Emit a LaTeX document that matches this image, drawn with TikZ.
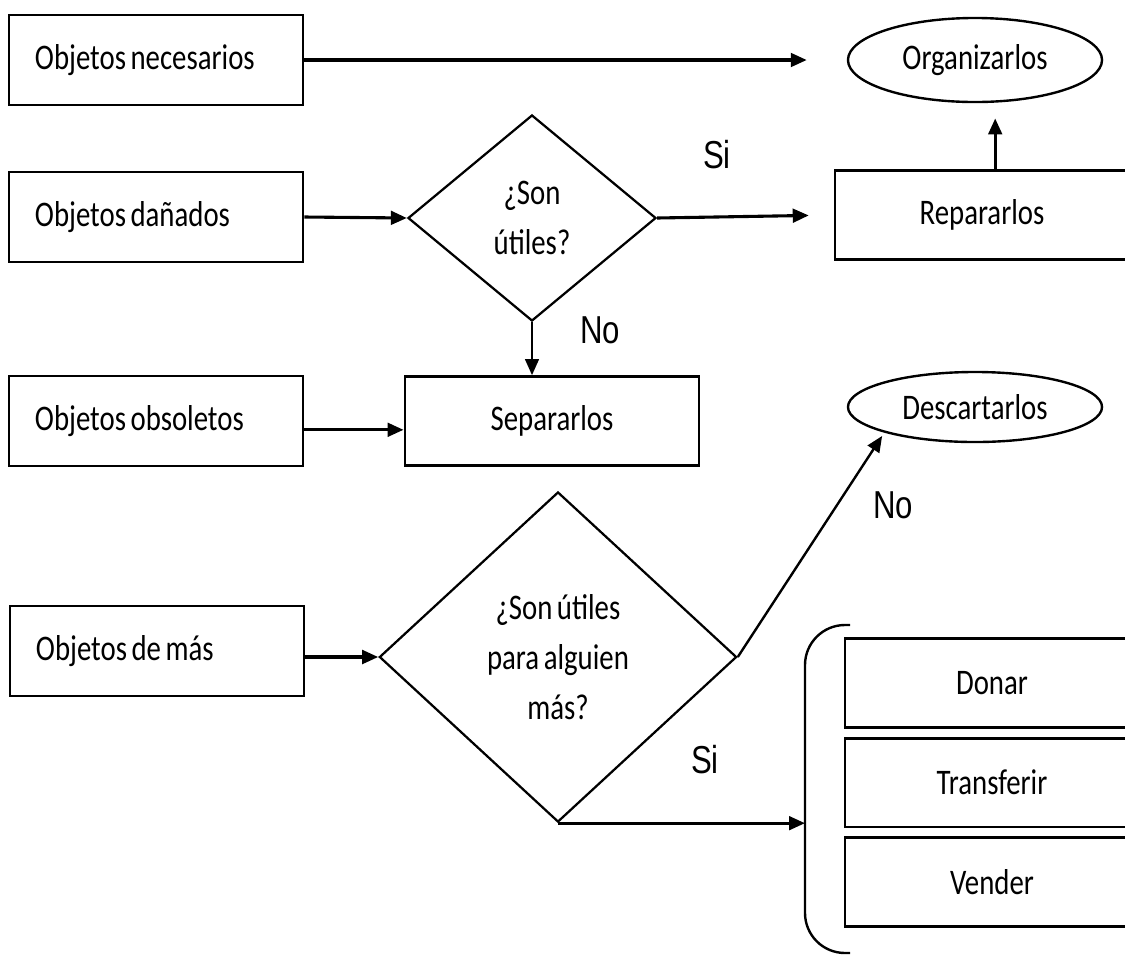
\documentclass[tikz,border=0pt]{standalone}
\usepackage{fontspec}
\setmainfont{Carlito}[FakeStretch=0.8, WordSpace=0.7]
\newfontfamily\labelfont{Liberation Sans}[FakeStretch=0.8]
\usetikzlibrary{positioning, arrows.meta, shapes.geometric}

\tikzset{
  boxtext/.style={font=\fontsize{25.6}{35.6}\selectfont},
  item/.style={draw, boxtext, line width=2pt, minimum width=7.35cm, minimum height=2.25cm,
    text width=6.05cm, inner xsep=0.65cm, align=flush left},
  action/.style={draw, boxtext, line width=2pt, minimum width=7.35cm, minimum height=2.22cm, align=center},
  goal/.style={draw, ellipse, boxtext, line width=1.7pt, minimum width=6.35cm},
  question/.style={draw, diamond, boxtext, line width=1.6pt, inner sep=0pt, align=center},
  answer/.style={font=\labelfont\fontsize{27.7}{32}\selectfont},
  arr/.style={-{Triangle[length=0.4cm,width=0.34cm]}, line width=2.2pt}
}

\begin{document}
\begin{tikzpicture}[x=0.025cm, y=-0.025cm]
  \useasboundingbox (0,0) rectangle (1125,956);

  % left column
  \node[item] (nec) at (156,60) {Objetos necesarios};
  \node[item] (dan) at (156,217) {Objetos dañados};
  \node[item] (obs) at (156,421) {Objetos obsoletos};
  \node[item] (mas) at (157,651) {Objetos de más};

  % questions
  \node[question, minimum width=6.2cm, minimum height=5.15cm] (q1) at (532,218) {¿Son\\útiles?};
  \node[question, minimum width=8.93cm, minimum height=8.25cm] (q2) at (558,657) {¿Son útiles\\para alguien\\más?};

  % results
  \node[goal, minimum height=2.1cm] (org) at (975,60) {Organizarlos};
  \node[action] (rep) at (982,215) {Repararlos};
  \node[action] (sep) at (552,421) {Separarlos};
  \node[goal, minimum height=1.75cm] (desc) at (975,407) {Descartarlos};
  \node[action] (don) at (992,683) {Donar};
  \node[action, below=0.2cm of don] (tra) {Transferir};
  \node[action, below=0.2cm of tra] (ven) {Vender};

  % bracket round the three choices
  \coordinate (brk) at (805,790);
  \draw[line width=1.7pt, rounded corners=1cm] (850,625) -- (805,625) -- (805,953) -- (850,953);

  % connectors
  \draw[arr, shorten >=1cm] (nec.east) -- (org.west);
  \draw[arr] (dan.east) -- (q1.west);
  \draw[arr, shorten >=0.62cm] (q1.east) -- (rep.west);
  \draw[arr, shorten >=0.38cm] ([xshift=0.33cm]rep.north) -- ([xshift=0.33cm]rep.north |- org.south);
  \draw[arr, line width=1.6pt] (q1.south) -- (q1.south |- sep.north);
  \draw[arr] ([yshift=-0.22cm]obs.east) -- ([yshift=-0.22cm]sep.west);
  \draw[arr] (mas.east |- q2.west) -- (q2.west);
  \draw[arr, line width=1.7pt, shorten >=0.1cm] (q2.east) -- (desc.south west);
  \draw[arr] (q2.south) -- (q2.south -| brk);

  % answers
  \node[answer] (si1) at (717,155) {Si};
  \node[answer] (no1) at (600,330) {No};
  \node[answer] (no2) at (893,505) {No};
  \node[answer] (si2) at (705,760) {Si};
\end{tikzpicture}
\end{document}
